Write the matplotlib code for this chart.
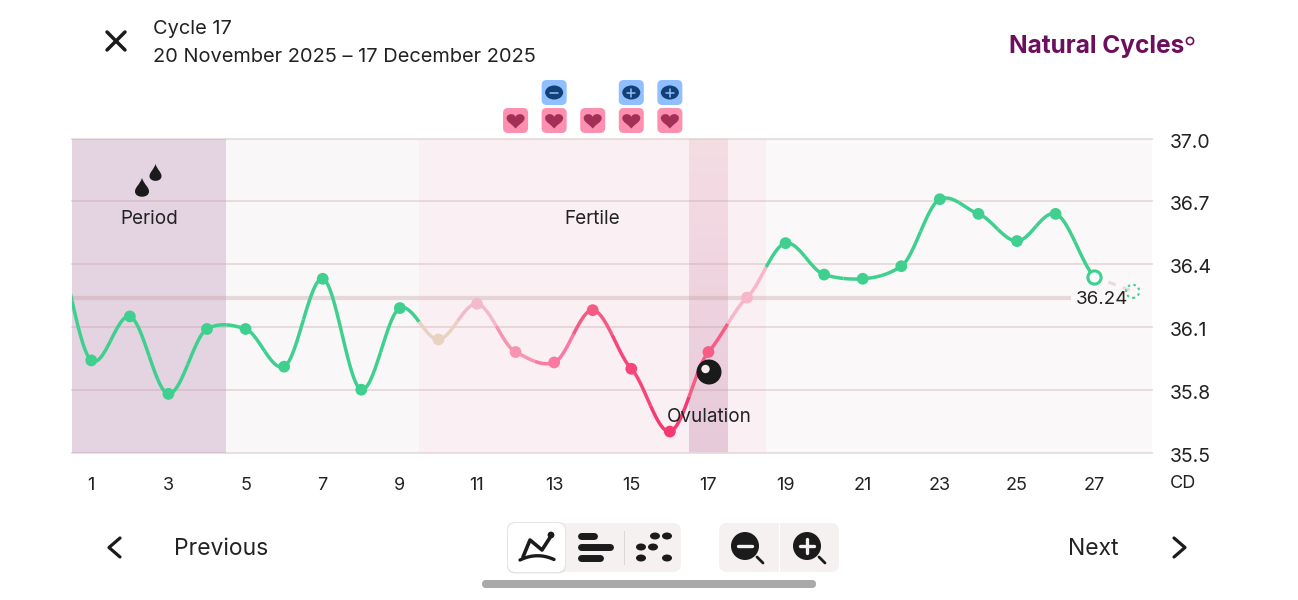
import numpy as np
import matplotlib
matplotlib.use('Agg')
import matplotlib.pyplot as plt
from matplotlib.patches import Circle, Ellipse, FancyBboxPatch, PathPatch, Rectangle
from matplotlib.path import Path

plt.rcParams['font.family'] = ['Inter', 'DejaVu Sans']

# data
dias = list(range(0, 29))
temperaturas = [36.58, 35.94, 36.15, 35.78, 36.09, 36.09, 35.91, 36.33, 35.80, 36.19,
                36.04, 36.21, 35.98, 35.93, 36.18, 35.90, 35.60, 35.98, 36.24, 36.50,
                36.35, 36.33, 36.39, 36.71, 36.64, 36.51, 36.64, 36.34, 36.27]
cores_dia = ['#3fd08f'] * 10 + ['#e8d3c3', '#f3bacb', '#f794b0', '#fb79a0', '#f55a85',
                                '#f6457a', '#f53a72', '#f65c86', '#f7b6c9'] + ['#3fd08f'] * 10
media = 36.24
dias_coito = [12, 13, 14, 15, 16]
dias_teste = [13, 15, 16]
sinais_teste = ['-', '+', '+']
ticks_y = [35.5, 35.8, 36.1, 36.4, 36.7, 37.0]
ticks_x = list(range(1, 28, 2))
faixas = [(0.5, 4.5, '#e4d3e1'), (4.5, 9.5, '#faf7f9'), (9.5, 18.5, '#faeff3'), (18.5, 28.5, '#fbf8f9')]

L, R, T, B = 72, 1152, 138.5, 452.5
ESC_X = (R - L) / 28.0


def px(dia):
    return L + (dia - 0.5) * ESC_X


def suavizar(x, y, por_dia=60, tensao=0.65):
    x = np.array(x, dtype=float)
    y = np.array(y, dtype=float)
    m = np.gradient(y, x) * tensao
    xs = []
    ys = []
    for i in range(len(x) - 1):
        t = np.linspace(0, 1, por_dia, endpoint=False)
        h00 = 2 * t**3 - 3 * t**2 + 1
        h10 = t**3 - 2 * t**2 + t
        h01 = -2 * t**3 + 3 * t**2
        h11 = t**3 - t**2
        xs.append(x[i] + t)
        ys.append(h00 * y[i] + h10 * m[i] + h01 * y[i + 1] + h11 * m[i + 1])
    return np.concatenate(xs), np.concatenate(ys)


fig = plt.figure(figsize=(12.98, 6.0), dpi=100)
fig.patch.set_facecolor('white')

ax = fig.add_axes([L / 1298, 1 - B / 600, (R - L) / 1298, (B - T) / 600])
ax.set_xlim(0.5, 28.5)
ax.set_ylim(35.5, 37.0)
for s in ax.spines.values():
    s.set_visible(False)

for ini, fim, cor in faixas:
    ax.axvspan(ini, fim, color=cor, lw=0, zorder=0)

grad = np.linspace(0, 1, 100).reshape(-1, 1)
cmap = matplotlib.colors.LinearSegmentedColormap.from_list('ov', ['#f5dde4', '#e7cada'])
ax.imshow(grad, extent=(16.5, 17.5, 35.5, 37.0), aspect='auto', cmap=cmap, zorder=0.5, origin='upper')
ax.set_xlim(0.5, 28.5)
ax.set_ylim(35.5, 37.0)

for v in ticks_y:
    ax.axhline(v, color='#c09a9a', alpha=0.3, lw=1.4, zorder=1, clip_on=False)
ax.plot([0.5, 26.4], [media, media], color='#c09a9a', alpha=0.33, lw=3, zorder=1.5, solid_capstyle='butt')

# curva colorida dia a dia
xs, ys = suavizar(dias[:28], temperaturas[:28])
xs = np.append(xs, dias[27])
ys = np.append(ys, temperaturas[27])
for d in range(0, 28):
    fim = min(d + 0.5, 27)
    m = (xs >= d - 0.5) & (xs <= fim + 0.001)
    ax.plot(xs[m], ys[m], color=cores_dia[d], lw=2.5, zorder=2, solid_capstyle='butt')

ax.plot(dias[27:29], temperaturas[27:29], color='#e8dade', lw=2.2, zorder=1.8, dashes=(2.5, 2.5))

ax.scatter(dias[1:27], temperaturas[1:27], c=cores_dia[1:27], s=72, lw=0, zorder=3)
ax.plot([27], [temperaturas[27]], 'o', ms=9.5, mfc='white', mec='#3fd08f', mew=2.2, zorder=3)
ax.scatter([28], [temperaturas[28]], s=90, facecolors='none', edgecolors='#3fd08f',
           linewidths=1.5, linestyles=(0, (1.2, 1.6)), zorder=3)

ax.yaxis.tick_right()
ax.set_yticks(ticks_y)
ax.set_yticklabels(['%.1f' % v for v in ticks_y], fontsize=14, color='#222222', va='center_baseline')
ax.set_xticks(ticks_x)
ax.set_xticklabels([str(v) for v in ticks_x], fontsize=13, color='#222222')
ax.tick_params(axis='y', length=0, pad=13)
ax.tick_params(axis='x', length=0, pad=17.5)
for rot in ax.get_yticklabels():
    rot.set_y(rot.get_position()[1])
    rot.set_transform(rot.get_transform() + matplotlib.transforms.ScaledTranslation(0, -2.0 / 100, fig.dpi_scale_trans))

# camada em pixels para os textos e icones
ov = fig.add_axes([0, 0, 1, 1], facecolor='none')
ov.set_xlim(0, 1298)
ov.set_ylim(600, 0)
ov.axis('off')


def caixa(x0, y0, x1, y1, r, cor, z=2, **kw):
    p = FancyBboxPatch((x0 + r, y0 + r), x1 - x0 - 2 * r, y1 - y0 - 2 * r,
                       boxstyle='round,pad=%f,rounding_size=%f' % (r, r), fc=cor, ec='none', zorder=z, **kw)
    ov.add_patch(p)


def linha(xx, yy, cor='#1b1b1b', lw=2.2, z=5):
    ov.plot(xx, yy, color=cor, lw=lw, solid_capstyle='round', solid_joinstyle='round', zorder=z)


def coracao(cx, cy, cor):
    w = 9.0
    h = 8.0
    v = [(cx, cy + h), (cx - w * 0.4, cy + h * 0.45), (cx - w, cy + h * 0.2), (cx - w, cy - h * 0.3),
         (cx - w, cy - h * 0.85), (cx - w * 0.2, cy - h), (cx, cy - h * 0.45),
         (cx + w * 0.2, cy - h), (cx + w, cy - h * 0.85), (cx + w, cy - h * 0.3),
         (cx + w, cy + h * 0.2), (cx + w * 0.4, cy + h * 0.45), (cx, cy + h)]
    codes = [Path.MOVETO] + [Path.CURVE4] * 12
    ov.add_patch(PathPatch(Path(v, codes), fc=cor, ec='none', zorder=4))


def gota(cx, cy, w, h):
    v = [(cx, cy - h), (cx - w * 0.3, cy - h * 0.35), (cx - w, cy - h * 0.1), (cx - w, cy + h * 0.35),
         (cx - w, cy + h * 1.05), (cx + w, cy + h * 1.05), (cx + w, cy + h * 0.35),
         (cx + w, cy - h * 0.1), (cx + w * 0.3, cy - h * 0.35), (cx, cy - h)]
    codes = [Path.MOVETO] + [Path.CURVE4] * 9
    ov.add_patch(PathPatch(Path(v, codes), fc='#1b1b1b', ec='none', zorder=4))


# cabecalho
linha([107, 125], [32, 50], lw=2.5)
linha([125, 107], [32, 50], lw=2.5)
ov.text(153, 28.5, 'Cycle 17', fontsize=14.4, color='#222222', va='center')
ov.text(153, 57.5, '20 November 2025 \u2013 17 December 2025', fontsize=14.4, color='#222222', va='center')
ov.text(1009, 47, 'Natural Cycles', fontsize=17.6, fontweight='bold', color='#6c0f5e', va='center')
ov.add_patch(Circle((1190, 41), 3.6, fc='none', ec='#6c0f5e', lw=1.2))

# icones de coito e teste
for d in dias_coito:
    caixa(px(d) - 12.5, 108, px(d) + 12.5, 133, 5, '#fd8fb0')
    coracao(px(d), 120.5, '#a32f56')
for d, sinal in zip(dias_teste, sinais_teste):
    caixa(px(d) - 12.5, 80, px(d) + 12.5, 105, 5, '#90bfff')
    ov.add_patch(Ellipse((px(d), 92.5), 18, 14, fc='#133f77', ec='none', zorder=4))
    linha([px(d) - 4, px(d) + 4], [92.5, 92.5], cor='#90bfff', lw=1.1)
    if sinal == '+':
        linha([px(d), px(d)], [88.5, 96.5], cor='#90bfff', lw=1.1)

# rotulos das fases
gota(142, 188, 7, 10)
gota(155.5, 173, 6, 9)
ov.text(149, 219.5, 'Period', fontsize=13.6, color='#222222', ha='center', va='center')
ov.text(592.5, 219.5, 'Fertile', fontsize=13.6, color='#222222', ha='center', va='center')
ov.text(709, 417.5, 'Ovulation', fontsize=13.6, color='#222222', ha='center', va='center')
ov.add_patch(Circle((709, 372), 12.5, fc='#1a1a1a', ec='none', zorder=4))
ov.add_patch(Circle((705.5, 369), 4.2, fc='#f5ecec', ec='none', zorder=5))
ov.text(1102, 299.5, '%.2f' % media, fontsize=13.5, color='#222222', ha='center', va='center')
ov.text(1170, 483, 'CD', fontsize=13, color='#222222', va='center')

# navegacao
linha([120, 109, 120], [538, 547.5, 557], lw=2.3)
linha([1174, 1185, 1174], [538, 547.5, 557], lw=2.3)
ov.text(174, 549, 'Previous', fontsize=16.5, color='#222222', va='center')
ov.text(1068, 549, 'Next', fontsize=16.5, color='#222222', va='center')

caixa(508, 523, 681, 572, 8, '#f6f1f1', z=2)
caixa(507, 522, 566, 573.5, 8, '#e9e4e4', z=2.5)
caixa(508, 523, 565, 572, 8, 'white', z=3)
ov.add_patch(Rectangle((623.8, 531), 1.3, 34, fc='#ddd8d8', ec='none', zorder=3))
linha([523, 530, 542, 551], [557, 540, 550, 536], lw=2.6)
ov.add_patch(Circle((551, 535), 3.4, fc='#1b1b1b', ec='none', zorder=5))
arco = np.linspace(0, 1, 30)
linha(520 + 34 * arco, 560 - 16 * arco * (1 - arco) - 0.5 * arco, lw=2.4)
linha([581, 594], [536, 536], lw=5.0)
linha([581, 610], [547, 547], lw=5.0)
linha([581, 600], [558, 558], lw=5.0)
for cx, cy in [(655, 536), (667, 536), (641, 547), (653, 547), (641, 558), (667, 558)]:
    ov.add_patch(Ellipse((cx, cy), 10, 7, fc='#1b1b1b', ec='none', zorder=5))

caixa(719, 523, 839, 572, 8, '#f6f1f1', z=2)
ov.add_patch(Rectangle((778.8, 523), 1.2, 49, fc='white', ec='none', zorder=3))
for cx, sinal in [(745, '-'), (807, '+')]:
    ov.add_patch(Circle((cx, 546), 14, fc='#1b1b1b', ec='none', zorder=4))
    linha([cx + 12, cx + 18], [557, 563], lw=2)
    linha([cx - 7, cx + 7], [546, 546], cor='#f6f1f1', lw=2.4)
    if sinal == '+':
        linha([cx, cx], [539, 553], cor='#f6f1f1', lw=2.4)

caixa(482, 580, 816, 588, 4, '#a9a9a9', z=2)

fig.savefig('out.png', dpi=100)
